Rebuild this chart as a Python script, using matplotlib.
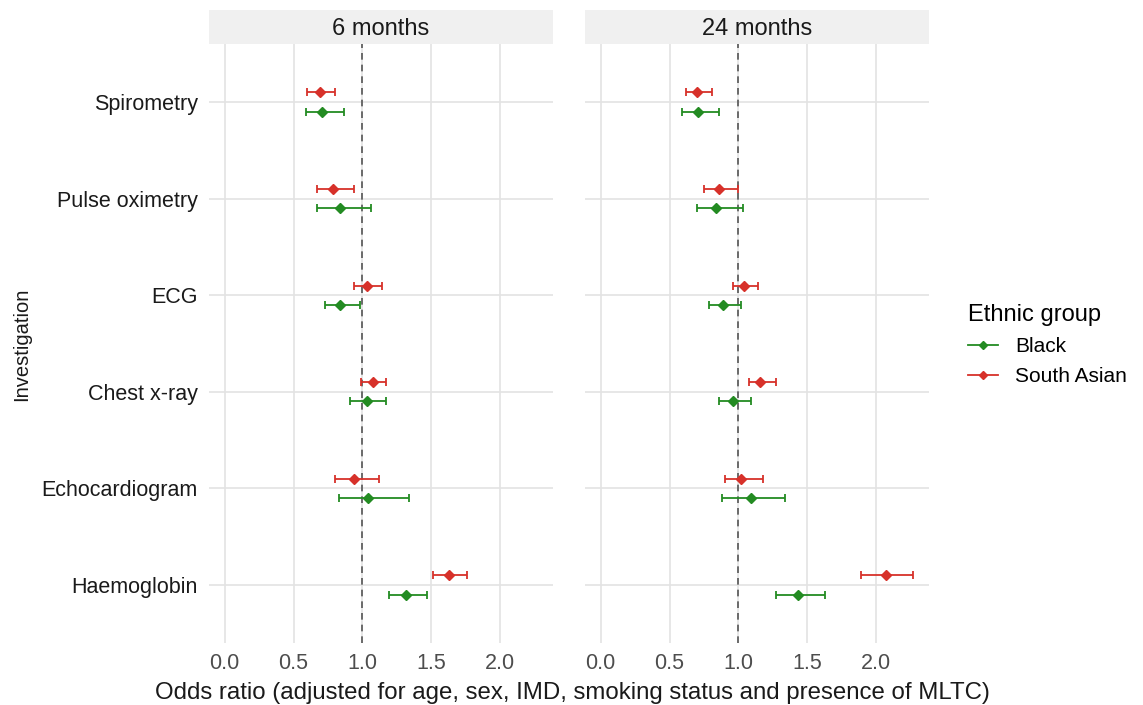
import numpy as np
import matplotlib.pyplot as plt
from matplotlib.lines import Line2D

plt.rcParams['font.family'] = ['Liberation Sans', 'DejaVu Sans']

investigations = ['Spirometry', 'Pulse oximetry', 'ECG', 'Chest x-ray', 'Echocardiogram', 'Haemoglobin']
panels = ['6 months', '24 months']

# odds ratio, lower CI, upper CI per panel
black_or = [[0.71, 0.84, 0.84, 1.03, 1.04, 1.32],
            [0.71, 0.84, 0.89, 0.96, 1.09, 1.43]]
black_lo = [[0.59, 0.67, 0.73, 0.91, 0.83, 1.19],
            [0.59, 0.70, 0.79, 0.86, 0.88, 1.27]]
black_hi = [[0.87, 1.06, 0.98, 1.17, 1.34, 1.47],
            [0.86, 1.03, 1.02, 1.09, 1.34, 1.63]]

sa_or = [[0.69, 0.79, 1.03, 1.08, 0.94, 1.63],
         [0.70, 0.86, 1.04, 1.16, 1.02, 2.07]]
sa_lo = [[0.60, 0.67, 0.94, 0.99, 0.80, 1.51],
         [0.62, 0.75, 0.96, 1.08, 0.90, 1.89]]
sa_hi = [[0.80, 0.94, 1.14, 1.17, 1.12, 1.76],
         [0.81, 1.00, 1.14, 1.27, 1.18, 2.27]]

green = '#238b22'
red = '#d7312a'
grid_col = '#e3e3e3'

fig = plt.figure(figsize=(11.43, 7.05), dpi=100)
W, H = 1143, 705

xmax = max(np.max(black_hi), np.max(sa_hi))
pad = 0.05 * xmax
xlim = (-pad, xmax + pad)
y = np.arange(len(investigations))
dodge = 0.1

panel_left = [209, 585]
pw = 344
top, bottom = 44, 643

for i, name in enumerate(panels):
    ax = fig.add_axes([panel_left[i] / W, 1 - bottom / H, pw / W, (bottom - top) / H])
    ax.errorbar(black_or[i], y + dodge, xerr=[np.array(black_or[i]) - np.array(black_lo[i]),
                                               np.array(black_hi[i]) - np.array(black_or[i])],
                fmt='D', color=green, ms=5, capsize=3, elinewidth=1.3, capthick=1.3)
    ax.errorbar(sa_or[i], y - dodge, xerr=[np.array(sa_or[i]) - np.array(sa_lo[i]),
                                            np.array(sa_hi[i]) - np.array(sa_or[i])],
                fmt='D', color=red, ms=5, capsize=3, elinewidth=1.3, capthick=1.3)
    ax.axvline(1, color='#555555', ls=(0, (4, 3)), lw=1.2, zorder=1)
    ax.set_xlim(xlim)
    ax.set_ylim(len(investigations) - 0.4, -0.6)
    ax.set_xticks([0, 0.5, 1.0, 1.5, 2.0])
    ax.set_xticklabels(['0.0', '0.5', '1.0', '1.5', '2.0'], fontsize=15.5, color='#4d4d4d')
    ax.set_yticks(y)
    if i == 0:
        ax.set_yticklabels(investigations, fontsize=15.5, color='#1a1a1a')
    else:
        ax.set_yticklabels([])
    ax.tick_params(axis='y', length=0, pad=8)
    ax.tick_params(axis='x', length=0, pad=7)
    ax.grid(True, color=grid_col, lw=1.2, zorder=0)
    ax.set_axisbelow(True)
    for s in ax.spines.values():
        s.set_visible(False)
    # facet strip
    strip = fig.add_axes([panel_left[i] / W, 1 - 44 / H, pw / W, 34 / H])
    strip.set_facecolor('#f0f0f0')
    strip.set_xticks([])
    strip.set_yticks([])
    for s in strip.spines.values():
        s.set_visible(False)
    strip.text(0.5, 0.45, name, ha='center', va='center', fontsize=17, color='#1a1a1a',
               transform=strip.transAxes)

fig.text(572 / W, 1 - 693 / H,
         'Odds ratio (adjusted for age, sex, IMD, smoking status and presence of MLTC)',
         ha='center', va='center', fontsize=17.3, color='#1a1a1a')
fig.text(22 / W, 1 - 344 / H, 'Investigation', rotation=90, ha='center', va='center',
         fontsize=14.5, color='#1a1a1a')

handles = [Line2D([], [], color=green, marker='D', ms=4, lw=1.3),
           Line2D([], [], color=red, marker='D', ms=4, lw=1.3)]
leg = fig.legend(handles, ['Black', 'South Asian'], title='Ethnic group',
                 loc='center left', bbox_to_anchor=(968 / W, 1 - 345 / H),
                 frameon=False, fontsize=15, title_fontsize=17, borderpad=0,
                 borderaxespad=0, handlelength=1.45, handletextpad=0.8,
                 labelspacing=0.55)
leg._legend_box.align = 'left'

fig.savefig('out.png', dpi=100)
